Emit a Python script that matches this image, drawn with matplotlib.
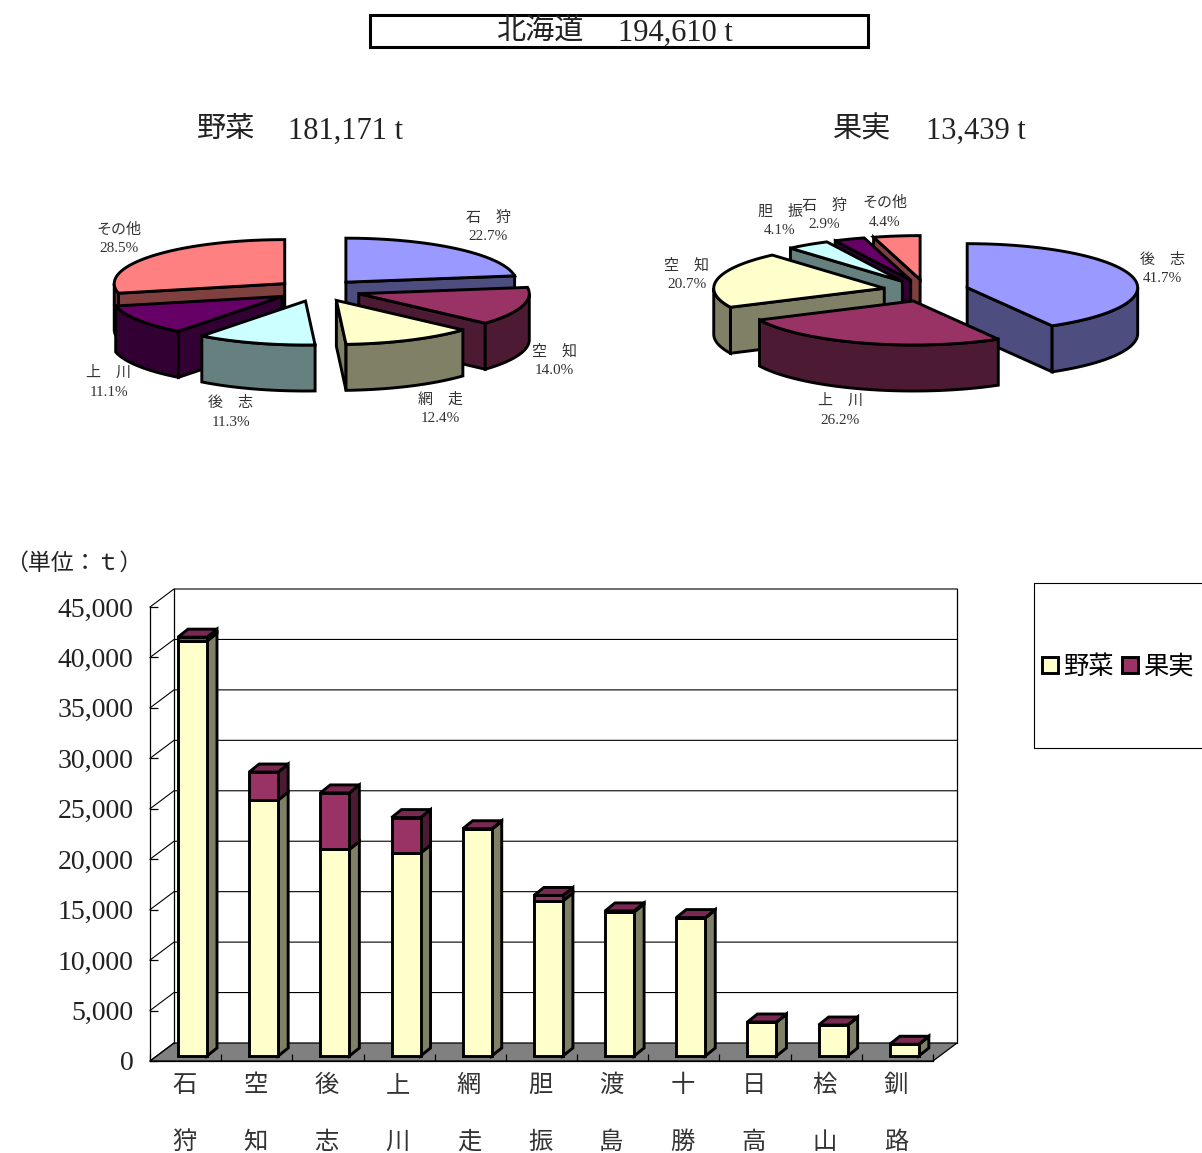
import numpy as np
import matplotlib
matplotlib.use('Agg')
import matplotlib.pyplot as plt
from matplotlib.patches import Polygon, Rectangle

CJK = 'Noto Sans CJK JP'
NUM = ['Liberation Serif', 'Noto Sans CJK JP']
W, H = 1202, 1153
LW = 2.1

# data
veg_names = ['石\u3000狩', '空\u3000知', '網\u3000走', '後\u3000志', '上\u3000川', 'その他']
veg_share = [22.7, 14.0, 12.4, 11.3, 11.1, 28.5]
fruit_names = ['後\u3000志', '上\u3000川', '空\u3000知', '胆\u3000振', '石\u3000狩', 'その他']
fruit_share = [41.7, 26.2, 20.7, 4.1, 2.9, 4.4]

districts = ['石狩', '空知', '後志', '上川', '網走', '胆振', '渡島', '十勝', '日高', '桧山', '釧路']
veg_t = [41126, 25364, 20472, 20110, 22465, 15360, 14270, 13680, 3350, 3050, 1150]
fruit_t = [390, 2782, 5604, 3521, 60, 551, 110, 40, 20, 20, 15]

# slice colours, same sequence in both pies
tops = ['#9999FF', '#993366', '#FFFFCC', '#CCFFFF', '#660066', '#FF8080']
sides = ['#4D4D80', '#4D1A33', '#808066', '#668080', '#330033', '#804040']

# layout of the pies (pixels)
RX, RY, THICK, EXPLODE = 170.5, 44, 46, 0.25
veg_label_xy = [(488, 218), (554, 351), (440, 400), (231, 403), (109, 373), (119, 230)]
fruit_label_xy = [(1162, 260), (840, 401), (687, 265), (780, 212), (824, 206), (885, 203)]

fig = plt.figure(figsize=(W / 100, H / 100), dpi=100)
page = fig.add_axes([0, 0, 1, 1])
page.set_xlim(0, W)
page.set_ylim(H, 0)
page.axis('off')


def ell(cx, cy, deg):
    t = np.radians(deg)
    return cx + RX * np.sin(t), cy - RY * np.cos(t)


def slice3d(ax, cx, cy, a0, a1, top, side, z):
    arc = np.linspace(a0, a1, 80)
    ax_, ay_ = ell(cx, cy, arc)
    # radial walls that face the viewer
    for ang, show in ((a0, np.sin(np.radians(a0)) < -1e-6), (a1, np.sin(np.radians(a1)) > 1e-6)):
        if show:
            px, py = ell(cx, cy, ang)
            ax.add_patch(Polygon([(cx, cy), (px, py), (px, py + THICK), (cx, cy + THICK)],
                                 fc=side, ec='k', lw=LW, joinstyle='miter', zorder=z))
    # outer rim, only the front half of the ellipse
    lo, hi = max(a0, 90), min(a1, 270)
    if hi > lo:
        rim = np.linspace(lo, hi, 80)
        rx_, ry_ = ell(cx, cy, rim)
        pts = np.r_[np.c_[rx_, ry_], np.c_[rx_[::-1], ry_[::-1] + THICK]]
        ax.add_patch(Polygon(pts, fc=side, ec='k', lw=LW, joinstyle='miter', zorder=z))
    pts = np.r_[[(cx, cy)], np.c_[ax_, ay_]]
    ax.add_patch(Polygon(pts, fc=top, ec='k', lw=LW, joinstyle='miter', zorder=z))


def pie3d(ax, cx, cy, shares, order):
    edges = np.r_[0, np.cumsum(shares)] * 3.6
    for z, i in enumerate(order):
        a0, a1 = edges[i], edges[i + 1]
        mid = np.radians((a0 + a1) / 2)
        ox = cx + RX * EXPLODE * np.sin(mid)
        oy = cy - RY * EXPLODE * np.cos(mid)
        slice3d(ax, ox, oy, a0, a1, tops[i], sides[i], 2 + z)


def pie_labels(ax, names, shares, xy):
    for n, s, (x, y) in zip(names, shares, xy):
        ax.text(x, y, n, family=CJK, fontsize=10.8, ha='center', va='center', color='#333333', zorder=20)
        ax.text(x, y + 19, '%.1f%%' % s, family=NUM, fontsize=11, ha='center', va='center',
                color='#333333', zorder=20)


pie3d(page, 318, 290.5, veg_share, [0, 5, 1, 4, 2, 3])
pie3d(page, 926, 290.5, fruit_share, [5, 4, 3, 2, 0, 1])
pie_labels(page, veg_names, veg_share, veg_label_xy)
pie_labels(page, fruit_names, fruit_share, fruit_label_xy)

# titles
page.add_patch(Rectangle((370, 15), 498, 32, fc='w', ec='k', lw=2.2))
page.text(539.5, 31, '北海道', family=CJK, fontsize=21, ha='center', va='center', color='#222222')
page.text(675.5, 33, '194,610 t', family=NUM, fontsize=22, ha='center', va='center', color='#222222')
page.text(225.5, 129, '野菜', family=CJK, fontsize=21, ha='center', va='center', color='#222222')
page.text(345.5, 131, '181,171 t', family=NUM, fontsize=22, ha='center', va='center', color='#222222')
page.text(862, 129, '果実', family=CJK, fontsize=21, ha='center', va='center', color='#222222')
page.text(975.5, 131, '13,439 t', family=NUM, fontsize=22, ha='center', va='center', color='#222222')
page.text(5, 563, '（単位：ｔ）', family=CJK, fontsize=16.5, ha='left', va='center', color='#222222')

# legend frame, runs off the right edge
page.add_patch(Rectangle((1034, 583), 200, 165, fc='w', ec='k', lw=0.8))

# stacked bars
ax = fig.add_axes([150 / W, 1 - 1061 / H, 783 / W, 454 / H])
ax.patch.set_visible(False)
ax.set_xlim(0, len(districts))
ax.set_ylim(0, 45000)
px_x = len(districts) / 783
px_y = 45000 / 454
wall_dx, wall_dy = 24 * px_x, 18 * px_y
bar_w, bar_shift, bar_lift = 29 * px_x, 6.9 * px_x, 5 * px_y
bar_dx, bar_dy = 10 * px_x, 8 * px_y

for s in ['top', 'right']:
    ax.spines[s].set_visible(False)
for s in ['left', 'bottom']:
    ax.spines[s].set_linewidth(0.9)

nx = len(districts)
floor = [(0, 0), (nx, 0), (nx + wall_dx, wall_dy), (wall_dx, wall_dy)]
ax.add_patch(Polygon(floor, fc='#808080', ec='k', lw=0.9, clip_on=False, zorder=1))
yt = np.arange(0, 45001, 5000)
for v in yt:
    ax.plot([0, wall_dx, nx + wall_dx] if v else [0, wall_dx], [v, v + wall_dy, v + wall_dy] if v else [v, v + wall_dy],
            color='k', lw=0.8, clip_on=False, zorder=1)
ax.plot([wall_dx, wall_dx], [wall_dy, 45000 + wall_dy], color='k', lw=0.9, clip_on=False, zorder=1)
ax.plot([nx + wall_dx, nx + wall_dx], [wall_dy, 45000 + wall_dy], color='k', lw=0.9, clip_on=False, zorder=1)

xc = np.arange(nx) + 0.5 + bar_shift
veg_t_a = np.array(veg_t, float)
fruit_t_a = np.array(fruit_t, float)
b1 = ax.bar(xc, veg_t_a, bar_w, bottom=bar_lift, color='#FFFFCC', edgecolor='k', lw=LW, zorder=5,
            clip_on=False, label='野菜')
b2 = ax.bar(xc, fruit_t_a, bar_w, bottom=bar_lift + veg_t_a, color='#993366', edgecolor='k', lw=LW, zorder=5,
            clip_on=False, label='果実')
for x, v, f in zip(xc, veg_t_a, fruit_t_a):
    r = x + bar_w / 2
    l = x - bar_w / 2
    y0, y1, y2 = bar_lift, bar_lift + v, bar_lift + v + f
    ax.add_patch(Polygon([(r, y0), (r + bar_dx, y0 + bar_dy), (r + bar_dx, y1 + bar_dy), (r, y1)],
                         fc='#808066', ec='k', lw=LW, clip_on=False, zorder=4))
    ax.add_patch(Polygon([(r, y1), (r + bar_dx, y1 + bar_dy), (r + bar_dx, y2 + bar_dy), (r, y2)],
                         fc='#4D1A33', ec='k', lw=LW, clip_on=False, zorder=4))
    ax.add_patch(Polygon([(l, y2), (r, y2), (r + bar_dx, y2 + bar_dy), (l + bar_dx, y2 + bar_dy)],
                         fc='#7A2952', ec='k', lw=LW, clip_on=False, zorder=4))

ax.set_yticks(yt)
ax.set_yticklabels(['{:,}'.format(int(v)) for v in yt], family=NUM, fontsize=20, color='#222222')
ax.tick_params(axis='y', direction='in', length=5.5, width=0.9, pad=12)
ax.set_xticks(np.arange(nx + 1))
ax.set_xticklabels([])
ax.tick_params(axis='x', which='major', direction='in', length=5, width=0.9)
ax.set_xticks(np.arange(nx) + 0.5 - 1.5 * px_x, minor=True)
ax.set_xticklabels(['\n'.join(d) for d in districts], minor=True, family=CJK, fontsize=17.5,
                   linespacing=2.55, color='#333333')
ax.tick_params(axis='x', which='minor', length=0, pad=8)

leg = ax.legend(handles=[b1, b2], ncol=2, frameon=False, loc='center left',
                bbox_to_anchor=(1042 / W, 1 - 667 / H), bbox_transform=fig.transFigure,
                prop={'family': CJK, 'size': 18.2}, handlelength=0.62, handleheight=0.62,
                handletextpad=0.2, columnspacing=0.35, borderpad=0, borderaxespad=0)

fig.savefig('out.png', dpi=100)
